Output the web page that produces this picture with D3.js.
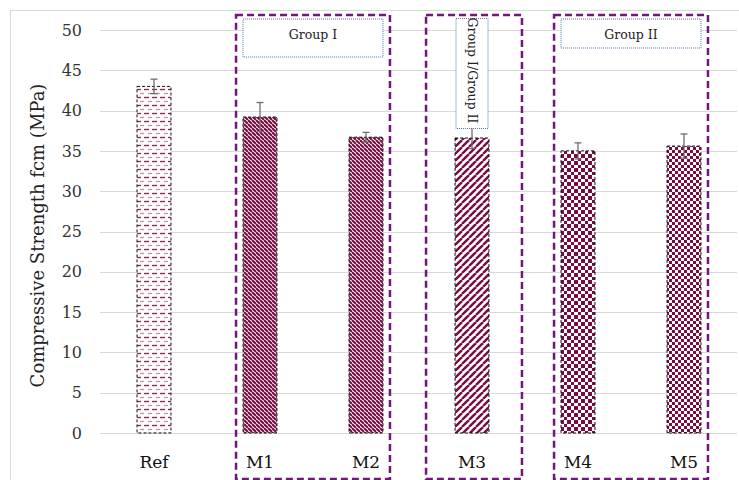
<!DOCTYPE html>
<html>
<head>
<meta charset="utf-8">
<script src="https://cdn.jsdelivr.net/npm/d3@7"></script>
<style>
  body { margin: 0; background: #fff; }
  svg { display: block; }
  text { font-family: "DejaVu Serif", "Liberation Serif", serif; }
</style>
</head>
<body>
<svg id="chart" width="739" height="480"></svg>
<script>
// data
const mixes = ["Ref", "M1", "M2", "M3", "M4", "M5"];
const strength = [43.0, 39.2, 36.7, 36.6, 35.0, 35.6];
const errors = [0.9, 1.8, 0.6, 1.3, 1.0, 1.5];
const patternIds = ["pRef", "pM1", "pM2", "pM3", "pM4", "pM5"];
const yTicks = [0, 5, 10, 15, 20, 25, 30, 35, 40, 45, 50];
const groups = [
  { label: "Group I", from: "M1", to: "M2", rotated: false },
  { label: "Group I/Group II", from: "M3", to: "M3", rotated: true },
  { label: "Group II", from: "M4", to: "M5", rotated: false }
];

const maroon = "#7a0a40";
const purple = "#74157c";

const svg = d3.select("#chart");
const plotLeft = 101, plotRight = 737, plotTop = 30, plotBottom = 433;

// outer frame
svg.append("rect")
  .attr("x", 10.5).attr("y", 10.5)
  .attr("width", 740).attr("height", 480)
  .attr("fill", "none").attr("stroke", "#d9d9d9");

const x = d3.scaleBand().domain(mixes).range([plotLeft, plotRight]).paddingInner(0.68).paddingOuter(0.34);
const y = d3.scaleLinear().domain([0, 50]).range([plotBottom, plotTop]);

// patterns
const defs = svg.append("defs");

const pRef = defs.append("pattern").attr("id", "pRef").attr("patternUnits", "userSpaceOnUse")
  .attr("width", 8).attr("height", 8);
pRef.append("rect").attr("width", 8).attr("height", 8).attr("fill", "#fff");
pRef.append("line").attr("x1", 0).attr("y1", 1.5).attr("x2", 5).attr("y2", 1.5)
  .attr("stroke", "#8e1f58").attr("stroke-width", 1.3);
pRef.append("line").attr("x1", 4).attr("y1", 5.5).attr("x2", 9).attr("y2", 5.5)
  .attr("stroke", "#c98fb0").attr("stroke-width", 1.3);

function diag(id, size, w, down) {
  const p = defs.append("pattern").attr("id", id).attr("patternUnits", "userSpaceOnUse")
    .attr("width", size).attr("height", size);
  p.append("rect").attr("width", size).attr("height", size).attr("fill", "#fff");
  [-size, 0, size].forEach(o => {
    p.append("line")
      .attr("x1", o).attr("y1", down ? 0 : size)
      .attr("x2", o + size).attr("y2", down ? size : 0)
      .attr("stroke", maroon).attr("stroke-width", w);
  });
}
diag("pM1", 4, 2.1, true);
diag("pM2", 4, 2.0, true);
diag("pM3", 7, 2.4, false);

function checker(id, s) {
  const p = defs.append("pattern").attr("id", id).attr("patternUnits", "userSpaceOnUse")
    .attr("width", s * 2).attr("height", s * 2);
  p.append("rect").attr("width", s * 2).attr("height", s * 2).attr("fill", "#fff");
  p.append("rect").attr("width", s).attr("height", s).attr("fill", maroon)
    .attr("shape-rendering", "crispEdges");
  p.append("rect").attr("x", s).attr("y", s).attr("width", s).attr("height", s).attr("fill", maroon)
    .attr("shape-rendering", "crispEdges");
}
checker("pM4", 3.5);
checker("pM5", 3);

// gridlines
svg.append("g").selectAll("line").data(yTicks).join("line")
  .attr("x1", plotLeft - 1).attr("x2", plotRight)
  .attr("y1", d => Math.round(y(d)) + 0.5).attr("y2", d => Math.round(y(d)) + 0.5)
  .attr("stroke", "#d9d9d9").attr("stroke-width", 1);

// y tick labels
svg.append("g").selectAll("text").data(yTicks).join("text")
  .attr("x", 82).attr("y", d => y(d))
  .attr("dy", "0.35em").attr("text-anchor", "end")
  .attr("font-size", 16).attr("fill", "#333")
  .text(d => d);

// axis title
svg.append("text")
  .attr("transform", `translate(44,${(plotTop + plotBottom) / 2 + 4}) rotate(-90)`)
  .attr("text-anchor", "middle").attr("font-size", 18).attr("fill", "#222")
  .text("Compressive Strength fcm (MPa)");

// bars
svg.append("g").selectAll("rect").data(mixes).join("rect")
  .attr("x", d => x(d)).attr("width", x.bandwidth())
  .attr("y", (d, i) => y(strength[i])).attr("height", (d, i) => y(0) - y(strength[i]))
  .attr("fill", (d, i) => `url(#${patternIds[i]})`)
  .attr("stroke", "#111").attr("stroke-width", 1).attr("stroke-dasharray", "3,2");

// error bars
const eb = svg.append("g").attr("stroke", "#6e6e6e").attr("stroke-width", 1.3);
mixes.forEach((m, i) => {
  const cx = x(m) + x.bandwidth() / 2;
  eb.append("line").attr("x1", cx).attr("x2", cx)
    .attr("y1", y(strength[i] + errors[i])).attr("y2", y(strength[i] - errors[i]));
  eb.append("line").attr("x1", cx - 3.5).attr("x2", cx + 3.5)
    .attr("y1", y(strength[i] + errors[i])).attr("y2", y(strength[i] + errors[i]));
  eb.append("line").attr("x1", cx - 3.5).attr("x2", cx + 3.5)
    .attr("y1", y(strength[i] - errors[i])).attr("y2", y(strength[i] - errors[i]));
});

// x labels
svg.append("g").selectAll("text").data(mixes).join("text")
  .attr("x", d => x(d) + x.bandwidth() / 2)
  .attr("y", 468)
  .attr("text-anchor", "middle").attr("font-size", 17).attr("fill", "#111")
  .text(d => d);

// group boxes
groups.forEach(g => {
  const single = g.from === g.to;
  const x0 = x(g.from) - (single ? 29 : 7);
  const x1 = x(g.to) + x.bandwidth() + (single ? 33 : 7);
  svg.append("rect")
    .attr("x", x0).attr("y", 15).attr("width", x1 - x0).attr("height", 464)
    .attr("fill", "none").attr("stroke", purple).attr("stroke-width", 2.5)
    .attr("stroke-dasharray", "7,4");
  if (g.rotated) {
    const cx = x(g.from) + x.bandwidth() / 2;
    svg.append("rect")
      .attr("x", cx - 16).attr("y", 18.5).attr("width", 32).attr("height", 110)
      .attr("fill", "#fff").attr("stroke", "#4a78a8").attr("stroke-width", 1)
      .attr("stroke-dasharray", "1,1");
    svg.append("text")
      .attr("transform", `translate(${cx - 4},${18.5 + 52}) rotate(90)`)
      .attr("text-anchor", "middle").attr("font-size", 12.5).attr("fill", "#222")
      .text(g.label);
  } else {
    const bx0 = x0 + 7, bx1 = x1 - 7;
    const bh = g.label === "Group I" ? 38 : 29;
    svg.append("rect")
      .attr("x", bx0).attr("y", 19).attr("width", bx1 - bx0).attr("height", bh)
      .attr("fill", "#fff").attr("stroke", "#4a78a8").attr("stroke-width", 1)
      .attr("stroke-dasharray", "1,1");
    svg.append("text")
      .attr("x", (bx0 + bx1) / 2).attr("y", 39)
      .attr("text-anchor", "middle").attr("font-size", 12.5).attr("fill", "#222")
      .text(g.label);
  }
});
</script>
</body>
</html>
